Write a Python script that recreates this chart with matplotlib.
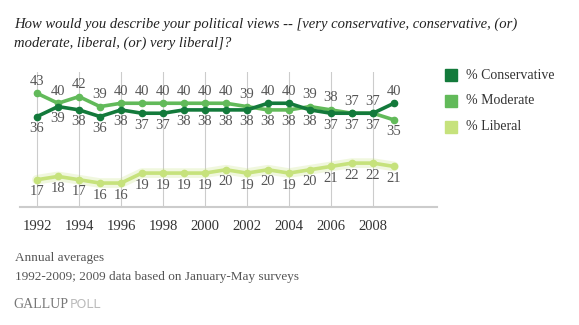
import matplotlib.pyplot as plt
from matplotlib.patches import Rectangle

# Annual averages, 1992-2009
years = list(range(1992, 2010))
conservative = [36, 39, 38, 36, 38, 37, 37, 38, 38, 38, 38, 40, 40, 38, 37, 37, 37, 40]
moderate = [43, 40, 42, 39, 40, 40, 40, 40, 40, 40, 39, 38, 38, 39, 38, 37, 37, 35]
liberal = [17, 18, 17, 16, 16, 19, 19, 19, 19, 20, 19, 20, 19, 20, 21, 22, 22, 21]
tick_years = list(range(1992, 2010, 2))

series_names = ['% Conservative', '% Moderate', '% Liberal']
series_colors = ['#137a3b', '#62ba5a', '#c6e27c']

W, H = 579, 325
fig = plt.figure(figsize=(W / 100, H / 100), dpi=100)
fig.patch.set_facecolor('white')

SERIF = ['Liberation Serif', 'DejaVu Serif']
TXT = '#555555'

# plot area in pixel coordinates (left, top, right, bottom)
L, T, R, B = 20, 72, 437, 207
ax = fig.add_axes([L / W, 1 - B / H, (R - L) / W, (B - T) / H])
ax.set_xlim(1991.19, 2011.05)
ax.set_ylim(8.8, 49.4)
for s in ['top', 'right', 'left']:
    ax.spines[s].set_visible(False)
ax.spines['bottom'].set_color('#cccccc')
ax.spines['bottom'].set_linewidth(1.5)
ax.set_yticks([])
ax.set_xticks(tick_years)
ax.set_xticklabels([str(y) for y in tick_years], fontfamily=SERIF, fontsize=10.5, color='#333333')
ax.tick_params(axis='x', length=0, pad=9)
for y in tick_years:
    ax.axvline(y, color='#cccccc', lw=0.8, zorder=0)

# liberal line has a soft halo around it
ax.plot(years, liberal, color=series_colors[2], lw=7, alpha=0.25, solid_capstyle='round', zorder=1)
for vals, col, z in [(liberal, series_colors[2], 2), (moderate, series_colors[1], 3),
                     (conservative, series_colors[0], 4)]:
    ax.plot(years, vals, color=col, lw=2.6, marker='o', markersize=4.5, zorder=z)

lab = dict(fontfamily=SERIF, fontsize=10.5, color=TXT, ha='center', clip_on=False)
for i, yr in enumerate(years):
    c, m = conservative[i], moderate[i]
    hi, lo = (m, c) if m >= c else (c, m)
    ax.annotate(str(hi), (yr, hi), xytext=(0, 4), textcoords='offset points', va='bottom', **lab)
    ax.annotate(str(lo), (yr, lo), xytext=(0, -4), textcoords='offset points', va='top', **lab)
    ax.annotate(str(liberal[i]), (yr, liberal[i]), xytext=(0, -4), textcoords='offset points',
                va='top', **lab)

# legend
for k, (name, col) in enumerate(zip(series_names, series_colors)):
    y0 = 69 + k * 26
    fig.patches.append(Rectangle((445 / W, 1 - (y0 + 12) / H), 12 / W, 12 / H,
                                 transform=fig.transFigure, color=col))
    fig.text(466 / W, 1 - (y0 + 6) / H, name, fontfamily=SERIF, fontsize=10,
             color='#333333', va='center')

# title
title = ("How would you describe your political views -- [very conservative, conservative, (or)\n"
         "moderate, liberal, (or) very liberal]?")
fig.text(14 / W, 1 - 18 / H, title, fontfamily=SERIF, style='italic', fontsize=10.5,
         color='#222222', va='top', linespacing=1.45)

# notes
fig.text(15 / W, 1 - 258 / H, 'Annual averages', fontfamily=SERIF, fontsize=9.5, color=TXT, va='center')
fig.text(15 / W, 1 - 277 / H, '1992-2009; 2009 data based on January-May surveys',
         fontfamily=SERIF, fontsize=9.5, color=TXT, va='center')
t = fig.text(13 / W, 1 - 305 / H, 'GALLUP', fontfamily=SERIF, fontsize=10, color='#777777', va='center')
fig.canvas.draw()
bb = t.get_window_extent()
fig.text(bb.x1 / W + 2 / W, 1 - 305 / H, 'POLL', fontfamily=['DejaVu Sans'], fontsize=9,
         color='#bbbbbb', va='center')

fig.savefig('out.png', dpi=100)
